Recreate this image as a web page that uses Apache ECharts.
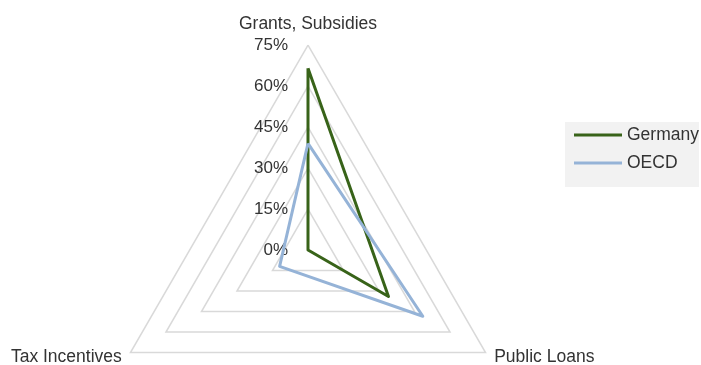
<!DOCTYPE html>
<html>
<head>
<meta charset="utf-8">
<script src="https://cdn.jsdelivr.net/npm/echarts@6/dist/echarts.min.js"></script>
<style>
  html, body { margin: 0; padding: 0; background: #fff; }
  #chart { width: 701px; height: 365px; }
</style>
</head>
<body>
<div id="chart"></div>
<script>
// Radar axes (in drawing order, counter-clockwise from the top)
const indicators = ['Grants, Subsidies', 'Tax Incentives', 'Public Loans'];
const axisMax = 75;
const axisStep = 15;

// Share of support by instrument, in percent
const germany = [66.5, 0, 34];
const oecd = [39, 12, 48.5];

const FONT = '"Liberation Sans", Arial, sans-serif';
const TEXT = '#333333';

const chart = echarts.init(document.getElementById('chart'), null, { renderer: 'canvas' });

chart.setOption({
  animation: false,
  backgroundColor: '#ffffff',
  legend: {
    left: 565,
    top: 122,
    orient: 'vertical',
    backgroundColor: '#f2f2f2',
    padding: [4, 0, 15, 9],
    itemWidth: 48,
    itemHeight: 3,
    itemGap: 10,
    icon: 'rect',
    textStyle: { fontFamily: FONT, fontSize: 17.5, color: TEXT },
    data: ['Germany', 'OECD']
  },
  radar: {
    center: [308, 250],
    radius: 205,
    startAngle: 90,
    shape: 'polygon',
    splitNumber: axisMax / axisStep,
    axisName: { fontFamily: FONT, fontSize: 17.5, color: TEXT },
    axisLine: { show: false },
    axisTick: { show: false },
    axisLabel: { show: false, margin: 20, fontFamily: FONT, fontSize: 17, color: TEXT, formatter: '{value}%' },
    splitLine: { lineStyle: { color: '#d9d9d9', width: 1.5 } },
    splitArea: { show: false },
    indicator: indicators.map((name, i) => ({
      name: name,
      min: 0,
      max: axisMax,
      nameGap: i === 0 ? 12 : 10,
      axisLabel: { show: i === 0 }
    }))
  },
  series: [{
    type: 'radar',
    symbol: 'none',
    data: [
      { name: 'Germany', value: germany, lineStyle: { color: '#386319', width: 3 }, itemStyle: { color: '#386319' } },
      { name: 'OECD', value: oecd, lineStyle: { color: '#95b3d7', width: 3 }, itemStyle: { color: '#95b3d7' } }
    ]
  }]
});
</script>
</body>
</html>
